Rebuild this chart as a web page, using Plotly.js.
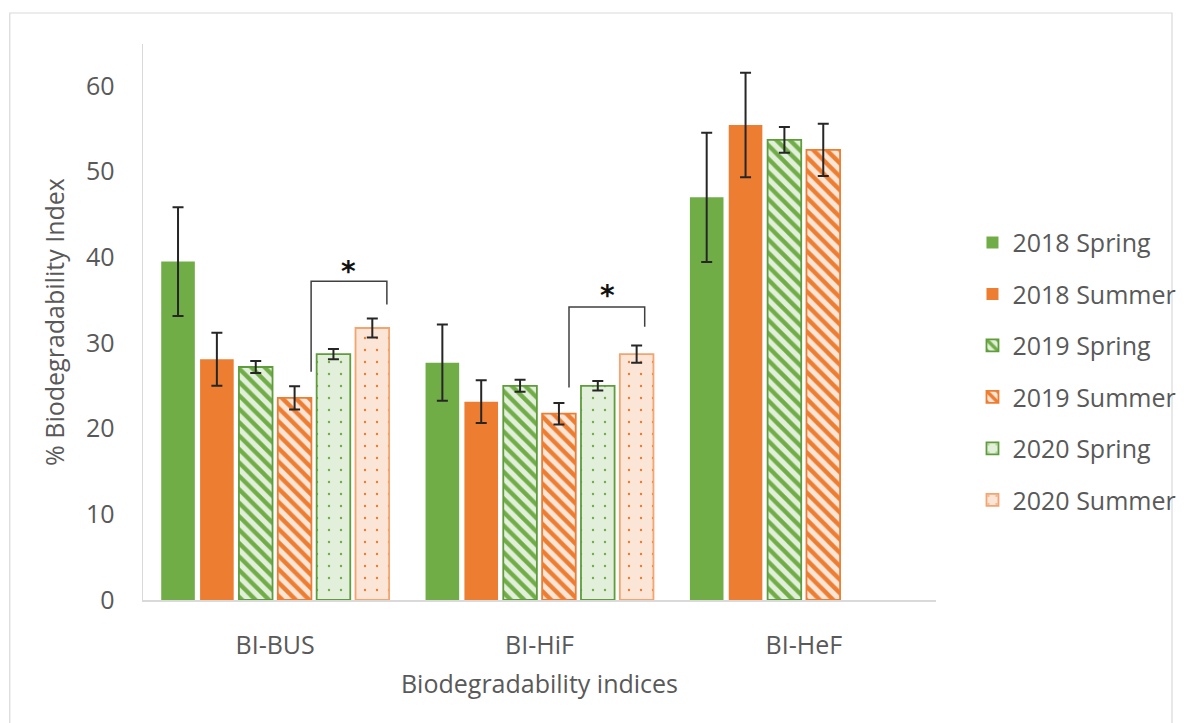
<!DOCTYPE html>
<html>
<head>
<meta charset="utf-8">
<script src="https://cdn.plot.ly/plotly-3.0.1.min.js"></script>
<style>
  html, body { margin: 0; padding: 0; background: #ffffff; }
  #chart { width: 1193px; height: 723px; }
</style>
</head>
<body>
<div id="chart"></div>
<script>
// Biodegradability indices by sampling season
const categories = ['BI-BUS', 'BI-HiF', 'BI-HeF'];
const seriesNames = ['2018 Spring', '2018 Summer', '2019 Spring', '2019 Summer', '2020 Spring', '2020 Summer'];

const spring2018 = [39.5, 27.7, 47.0];
const summer2018 = [28.1, 23.15, 55.45];
const spring2019 = [27.2, 25.0, 53.7];
const summer2019 = [23.6, 21.75, 52.55];
const spring2020 = [28.7, 25.0, null];
const summer2020 = [31.75, 28.7, null];

const errSpring2018 = [6.35, 4.45, 7.55];
const errSummer2018 = [3.1, 2.5, 6.1];
const errSpring2019 = [0.7, 0.7, 1.5];
const errSummer2019 = [1.35, 1.25, 3.05];
const errSpring2020 = [0.6, 0.55, null];
const errSummer2020 = [1.1, 1.0, null];

// significance brackets (x in category units):
// [left x, right x, left foot, top, right foot, star x, star y]
const bracketBUS = [0.136, 0.4226, 26.65, 37.2, 34.5, 0.276, 38.3];
const bracketHiF = [1.1116, 1.398, 24.8, 34.2, 31.9, 1.257, 35.6];

const GREEN = '#70ad47', ORANGE = '#ed7d31';
const GREEN_LIGHT = '#e2efda', ORANGE_LIGHT = '#fbe5d6';
const GREEN_EDGE = '#5f9d3c';
const TEXT = '#595959';
const FONT = 'Open Sans, Noto Sans, sans-serif';

function errBars(arr) {
  return { type: 'data', array: arr, visible: true, color: '#262626', thickness: 2, width: 5.5 };
}

const traces = [
  { name: seriesNames[0], y: spring2018, err: errSpring2018,
    marker: { color: GREEN, line: { width: 0 } } },
  { name: seriesNames[1], y: summer2018, err: errSummer2018,
    marker: { color: ORANGE, line: { width: 0 } } },
  { name: seriesNames[2], y: spring2019, err: errSpring2019,
    marker: { color: GREEN_LIGHT, line: { color: GREEN_EDGE, width: 1.8 },
      pattern: { shape: '\\', fgcolor: GREEN, bgcolor: GREEN_LIGHT, size: 9.5, solidity: 0.45, fillmode: 'replace' } } },
  { name: seriesNames[3], y: summer2019, err: errSummer2019,
    marker: { color: ORANGE_LIGHT, line: { color: ORANGE, width: 1.8 },
      pattern: { shape: '\\', fgcolor: ORANGE, bgcolor: ORANGE_LIGHT, size: 9.5, solidity: 0.45, fillmode: 'replace' } } },
  { name: seriesNames[4], y: spring2020, err: errSpring2020,
    marker: { color: GREEN_LIGHT, line: { color: GREEN_EDGE, width: 1.8 },
      pattern: { shape: '.', fgcolor: GREEN, bgcolor: GREEN_LIGHT, size: 12, solidity: 0.03, fillmode: 'replace' } } },
  { name: seriesNames[5], y: summer2020, err: errSummer2020,
    marker: { color: ORANGE_LIGHT, line: { color: '#f4a46f', width: 1.8 },
      pattern: { shape: '.', fgcolor: ORANGE, bgcolor: ORANGE_LIGHT, size: 12, solidity: 0.03, fillmode: 'replace' } } }
].map((t, i) => ({
  type: 'bar',
  name: t.name,
  x: categories,
  y: t.y,
  error_y: errBars(t.err),
  marker: t.marker,
  legendgroup: 'g' + i,
  hoverinfo: 'x+y+name'
}));

function bracketShape(b) {
  const [x0, x1, yl, yt, yr] = b;
  return {
    type: 'path', xref: 'x', yref: 'y',
    path: `M ${x0},${yl} L ${x0},${yt} L ${x1},${yt} L ${x1},${yr}`,
    line: { color: '#404040', width: 1.5 }
  };
}

function starAnnotation(b) {
  return {
    x: b[5], y: b[6], xref: 'x', yref: 'y', text: '<b>*</b>', showarrow: false,
    font: { family: 'DejaVu Sans, sans-serif', size: 28, color: '#111111' },
    yanchor: 'middle'
  };
}

const layout = {
  width: 1193, height: 723,
  paper_bgcolor: '#ffffff', plot_bgcolor: '#ffffff',
  margin: { l: 143, r: 247, t: 44, b: 123, pad: 0 },
  font: { family: FONT, size: 25, color: TEXT },
  barmode: 'group',
  bargap: 0.118,
  bargroupgap: 0.135,
  showlegend: true,
  legend: {
    x: 1.046, y: 0.684, xanchor: 'left', yanchor: 'top',
    font: { family: FONT, size: 25, color: TEXT },
    tracegroupgap: 16, itemwidth: 30, bgcolor: 'rgba(0,0,0,0)'
  },
  xaxis: {
    type: 'category',
    range: [-0.5, 2.5],
    showgrid: false, zeroline: false,
    showline: true, linecolor: '#d9d9d9', linewidth: 1.5,
    ticks: '', ticklabelstandoff: 22,
    tickfont: { family: FONT, size: 25, color: TEXT },
    title: { text: 'Biodegradability indices', font: { family: FONT, size: 25, color: TEXT }, standoff: 16 },
    automargin: false
  },
  yaxis: {
    range: [0, 64.9],
    tickvals: [0, 10, 20, 30, 40, 50, 60],
    showgrid: false, zeroline: false,
    showline: true, linecolor: '#d9d9d9', linewidth: 1.5,
    ticks: '', ticklabelstandoff: 22,
    tickfont: { family: FONT, size: 25, color: TEXT },
    title: { text: '% Biodegradability Index', font: { family: FONT, size: 25, color: TEXT }, standoff: 14 },
    automargin: false
  },
  shapes: [
    bracketShape(bracketBUS),
    bracketShape(bracketHiF),
    {
      type: 'rect', xref: 'paper', yref: 'paper',
      x0: -0.168, x1: 1.2976, y0: -0.23, y1: 1.0558,
      line: { color: '#d9d9d9', width: 1.2 }, fillcolor: 'rgba(0,0,0,0)', layer: 'below'
    }
  ],
  annotations: [starAnnotation(bracketBUS), starAnnotation(bracketHiF)]
};

Plotly.newPlot('chart', traces, layout, { displayModeBar: false, staticPlot: true });
</script>
</body>
</html>
